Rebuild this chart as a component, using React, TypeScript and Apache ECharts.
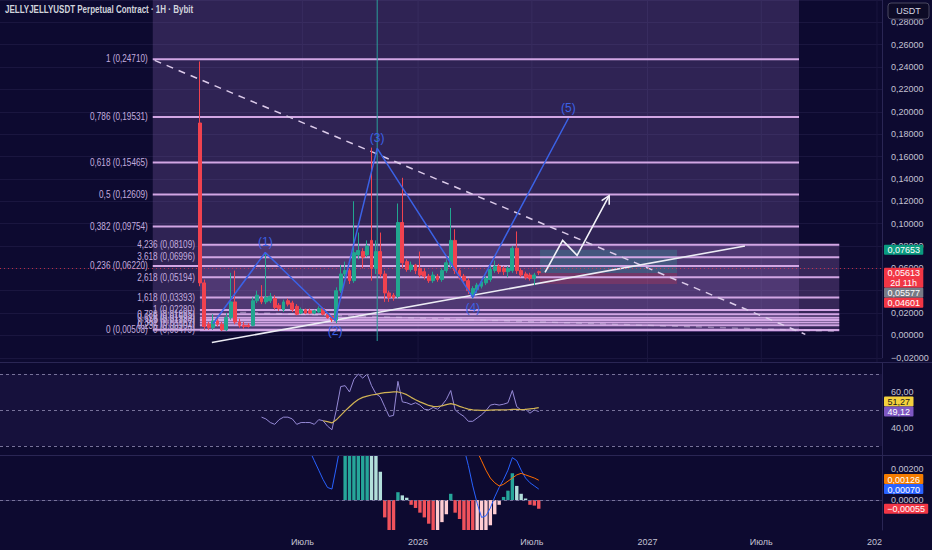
import React, { useEffect, useRef } from 'react';
import * as echarts from 'echarts';

// ---------- palette / fonts ----------
const BG = '#0d0a30';
const FONT = "'Liberation Sans', Arial, sans-serif";
const LABEL = '#c3c2d2';
const AXIS_LINE = '#2a2654';
const GRID_LINE = '#1a163f';
const FIB_LINE = '#d2a6e4';
const FIB_TEXT = '#c3acdf';
const FIB1_FILL = 'rgba(125,95,170,0.30)';
const FIB2_FILL = 'rgba(175,120,205,0.26)';
const UP = '#22a68f';
const DOWN = '#f0424f';
const WAVE = '#3b62e6';
const AXIS_FONT = 9;

// ---------- data ----------
const chartTitle = 'JELLYJELLYUSDT Perpetual Contract · 1H · Bybit';
const currency = 'USDT';

const firstCandle = '2025-01-19';
const opens = [
  0.190, 0.047, 0.010, 0.007, 0.013, 0.010, 0.005, 0.016, 0.030, 0.012,
  0.009, 0.009, 0.009, 0.031, 0.034, 0.030, 0.031, 0.033, 0.027, 0.023,
  0.031, 0.029, 0.026, 0.020, 0.023, 0.022, 0.020, 0.021, 0.024, 0.019,
  0.017, 0.014, 0.040, 0.055, 0.058, 0.049, 0.072, 0.075, 0.072, 0.085,
  0.060, 0.075, 0.055, 0.038, 0.036, 0.035, 0.101, 0.066, 0.059, 0.063,
  0.060, 0.057, 0.053, 0.049, 0.053, 0.050, 0.058, 0.063, 0.085, 0.058,
  0.053, 0.049, 0.036, 0.041, 0.044, 0.047, 0.050, 0.058, 0.062, 0.060,
  0.057, 0.058, 0.078, 0.058, 0.055, 0.054, 0.051, 0.057,
];
const closes = [
  0.047, 0.008, 0.007, 0.013, 0.010, 0.005, 0.016, 0.030, 0.012, 0.009,
  0.008, 0.008, 0.031, 0.036, 0.030, 0.034, 0.035, 0.025, 0.024, 0.030,
  0.028, 0.023, 0.019, 0.023, 0.020, 0.020, 0.022, 0.024, 0.019, 0.016,
  0.014, 0.040, 0.055, 0.058, 0.049, 0.074, 0.076, 0.070, 0.080, 0.060,
  0.075, 0.055, 0.038, 0.034, 0.034, 0.101, 0.065, 0.059, 0.063, 0.058,
  0.054, 0.053, 0.049, 0.054, 0.050, 0.058, 0.065, 0.085, 0.058, 0.052,
  0.049, 0.040, 0.042, 0.045, 0.048, 0.051, 0.059, 0.062, 0.057, 0.057,
  0.060, 0.078, 0.058, 0.054, 0.052, 0.051, 0.054, 0.05613,
];
const highs = [
  0.245, 0.050, 0.012, 0.019, 0.016, 0.012, 0.020, 0.056, 0.058, 0.015,
  0.012, 0.011, 0.034, 0.040, 0.045, 0.073, 0.038, 0.036, 0.029, 0.032,
  0.033, 0.031, 0.028, 0.025, 0.024, 0.024, 0.023, 0.026, 0.025, 0.020,
  0.018, 0.043, 0.063, 0.066, 0.060, 0.120, 0.092, 0.078, 0.085, 0.168,
  0.085, 0.092, 0.058, 0.040, 0.038, 0.118, 0.141, 0.068, 0.066, 0.064,
  0.075, 0.060, 0.055, 0.057, 0.055, 0.060, 0.068, 0.114, 0.095, 0.060,
  0.055, 0.051, 0.044, 0.047, 0.050, 0.053, 0.062, 0.067, 0.064, 0.062,
  0.062, 0.080, 0.093, 0.060, 0.057, 0.056, 0.056, 0.058,
];
const lows = [
  0.044, 0.005, 0.005, 0.005, 0.008, 0.004, 0.004, 0.014, 0.010, 0.007,
  0.006, 0.007, 0.008, 0.029, 0.028, 0.028, 0.029, 0.023, 0.022, 0.021,
  0.026, 0.021, 0.018, 0.019, 0.019, 0.019, 0.019, 0.020, 0.018, 0.015,
  0.012, 0.011, 0.038, 0.052, 0.046, 0.047, 0.068, 0.060, 0.070, 0.049,
  0.055, 0.052, 0.030, 0.030, 0.031, 0.033, 0.060, 0.057, 0.057, 0.055,
  0.052, 0.050, 0.047, 0.047, 0.048, 0.048, 0.056, 0.060, 0.055, 0.050,
  0.046, 0.037, 0.033, 0.038, 0.042, 0.045, 0.048, 0.056, 0.055, 0.054,
  0.052, 0.056, 0.055, 0.052, 0.050, 0.049, 0.045, 0.054,
];

const rsi = [
  ...Array(14).fill(null),
  46, 45, 43, 42, 44.6, 46, 46, 45, 42, 43,
  43, 43, 42, 44.6, 44, 41, 39, 50, 63, 63.5,
  60, 67, 70, 67.7, 70, 63.5, 59, 57.2, 51.8, 46.4,
  47, 65.9, 54.5, 54, 53, 54, 52.7, 50.4, 50, 51.4,
  50.4, 52.7, 55.8, 60.8, 50, 48, 46.4, 43.7, 43.7, 45.5,
  47.3, 49.6, 52.7, 53.2, 52.7, 53.2, 54, 60.8, 51.8, 50,
  50.4, 48.2, 50, 49.12,
];
const rsiMa = [
  ...Array(28).fill(null),
  44, 43.5, 42.8, 44.5, 47, 49.5, 51.8, 54, 55.8, 57,
  57.7, 58.3, 58.7, 59.2, 59.6, 59.8, 60, 60, 59.4, 58.5,
  57, 55.7, 54.5, 53.5, 52.5, 52, 51.9, 52.3, 53, 53.5,
  53, 52, 51.2, 50.5, 50, 49.9, 49.8, 49.8, 49.9, 50,
  50, 50, 50.1, 50.3, 50.3, 50.2, 50.3, 50.6, 50.9, 51.27,
];
const macdLine = [
  ...Array(25).fill(null),
  0.0031, 0.0025, 0.0019, 0.0013, 0.0008, 0.0007, 0.0021, 0.0036, 0.0060, 0.0080,
  0.0105, 0.0125, 0.0135, 0.0145, 0.0140, 0.0135, 0.0125, 0.0105, 0.0090, 0.0080,
  0.0090, 0.0088, 0.0085, 0.0080, 0.0075, 0.0070, 0.0065, 0.0058, 0.0052, 0.0050,
  0.0050, 0.0052, 0.0060, 0.0055, 0.0045, 0.0033, 0.0022, 0.0009, -0.0002, -0.0011,
  -0.0010, -0.0005, 0.0002, 0.0008, 0.0013, 0.0019, 0.0027, 0.0025, 0.0019, 0.0014,
  0.0011, 0.0009, 0.0007,
];
const macdSignal = [
  ...Array(32).fill(null),
  0.0030, 0.0035, 0.0045, 0.0055, 0.0065, 0.0075, 0.0085, 0.0092,
  0.0098, 0.0102, 0.0103, 0.0101, 0.0097, 0.0095, 0.0093, 0.0091, 0.0089, 0.0086,
  0.0083, 0.0079, 0.0075, 0.0071, 0.0067, 0.0064, 0.0062, 0.0061, 0.0060, 0.0057,
  0.0052, 0.0046, 0.0039, 0.0031, 0.0025, 0.0019, 0.0014, 0.0011, 0.0009, 0.0010,
  0.0012, 0.0014, 0.0016, 0.0017, 0.0016, 0.0015, 0.0014, 0.00126,
];
const macdHist = [
  ...Array(33).fill(null),
  0.0032, 0.0042, 0.0050, 0.0056, 0.0060, 0.0062, 0.0042,
  0.0030, 0.0018, -0.0011, -0.0020, -0.0024, 0.0005, 0.0003, 0.00015, -0.0003, -0.0005,
  -0.0008, -0.0011, -0.0015, -0.0020, -0.0019, -0.0014, -0.0009, 0.0004, -0.0008, -0.0012,
  -0.0019, -0.0024, -0.0030, -0.0029, -0.0027, -0.0022, -0.0016, -0.0009, -0.0003, 0.0002,
  0.0006, 0.0017, 0.0009, 0.0004, 0.0001, -0.0003, -0.00035, -0.00055,
];

const timeTickDates = ['2025-07-01', '2026-01-01', '2026-07-01', '2027-01-01', '2027-07-01', '2028-01-01'];
const timeTickLabels = ['Июль', '2026', 'Июль', '2027', 'Июль', '2028'];
const timeRange = ['2024-03-07', '2028-01-09'];

const priceRange = [-0.02, 0.30];
const priceStep = 0.02;
const rsiRange = [24.4, 76.1];
const rsiTicks = [40, 60];
const rsiBands = [70, 50, 30];
const macdRange = [-0.0019, 0.0028];
const macdTicks = [0, 0.002];

const fib1Ratios = ['0', '0,236', '0,382', '0,5', '0,618', '0,786', '1'];
const fib1Prices = [0.00508, 0.0622, 0.09754, 0.12609, 0.15465, 0.19531, 0.2471];
const fib1Span = ['2024-11-05', '2027-08-30'];
const fib1FillTop = 0.30;

const fib2Ratios = ['0', '0,236', '0,382', '0,5', '0,618', '0,786', '1', '1,618', '2,618', '3,618', '4,236'];
const fib2Prices = [0.00479, 0.00904, 0.01167, 0.0138, 0.01592, 0.01895, 0.0228, 0.03393, 0.05194, 0.06996, 0.08109];
const fib2Span = ['2025-01-19', '2027-11-02'];
const fibFillBottom = 0.003;

const waveDates = ['2025-02-09', '2025-05-03', '2025-08-22', '2025-10-28', '2026-03-29', '2026-08-28'];
const wavePrices = [0.0107, 0.0742, 0.0134, 0.1673, 0.034, 0.194];
const waveLabels = ['', '(1)', '(2)', '(3)', '(4)', '(5)'];

const supportDates = ['2025-02-07', '2027-06-05'];
const supportPrices = [-0.0063, 0.080];

const resistDates = ['2024-11-08', '2027-09-09'];
const resistPrices = [0.246, 0.001];

const lowDashDates = ['2025-03-24', '2027-11-03'];
const lowDashPrices = [0.0206, 0.0036];

const projDates = ['2026-07-22', '2026-08-19', '2026-09-11', '2026-11-01'];
const projPrices = [0.0564, 0.085, 0.0716, 0.125];

const markerDate = '2025-10-28';
const markerPrices = [-0.005, 0.30];

const positionDates = ['2026-07-14', '2027-02-17'];
const targetPrice = 0.07653;
const entryPrice = 0.05577;
const stopPrice = 0.04601;
const lastPrice = 0.05613;
const countdown = '2d 11h';

// ---------- helpers ----------
const DAY = 86400000;
const ts = (s: string) => Date.parse(s + 'T00:00:00Z');
const fmtNum = (v: number, d: number) => (v < -1e-12 ? '−' : '') + Math.abs(v).toFixed(d).replace('.', ',');
const candleTs = opens.map((_, i) => ts(firstCandle) + i * 7 * DAY);
const tickTs = timeTickDates.map(ts);

function histColor(i: number) {
  const v = macdHist[i] as number;
  const p = macdHist[i - 1];
  const prev = p == null ? -Infinity : (p as number);
  if (v >= 0) return v >= prev ? '#26a69a' : '#b2dfdb';
  return v < prev ? '#f0525c' : '#ffcdd2';
}

function hLevels(name: string, span: string[], prices: number[], ratios: string[]) {
  return {
    type: 'custom', name, xAxisIndex: 0, yAxisIndex: 0, z: 3, silent: true,
    data: prices.map((p, i) => [ts(span[0]), ts(span[1]), p, i]),
    renderItem: (_p: any, api: any) => {
      const a = api.coord([api.value(0), api.value(2)]);
      const b = api.coord([api.value(1), api.value(2)]);
      const idx = api.value(3);
      return {
        type: 'group',
        children: [
          { type: 'line', shape: { x1: a[0], y1: a[1], x2: b[0], y2: a[1] }, style: { stroke: FIB_LINE, lineWidth: 2 } },
          {
            type: 'text', x: a[0] - 5, y: a[1], scaleX: 0.82,
            style: {
              text: `${ratios[idx]} (${fmtNum(prices[idx], 5)})`,
              fill: FIB_TEXT, fontSize: 10, fontFamily: FONT, align: 'right', verticalAlign: 'middle',
            },
          },
        ],
      };
    },
  };
}

function fillRect(name: string, span: string[], top: number, bottom: number, color: string, z: number) {
  return {
    type: 'custom', name, xAxisIndex: 0, yAxisIndex: 0, z, silent: true,
    data: [[ts(span[0]), ts(span[1]), top, bottom]],
    renderItem: (_p: any, api: any) => {
      const a = api.coord([api.value(0), api.value(2)]);
      const b = api.coord([api.value(1), api.value(3)]);
      return { type: 'rect', shape: { x: a[0], y: a[1], width: b[0] - a[0], height: b[1] - a[1] }, style: { fill: color } };
    },
  };
}

function twoPointLine(name: string, dates: string[], prices: number[], lineStyle: any, z: number) {
  return {
    type: 'line', name, xAxisIndex: 0, yAxisIndex: 0, z, silent: true, symbol: 'none',
    data: dates.map((d, i) => [ts(d), prices[i]]), lineStyle,
  };
}

const priceLabel = (v: number) => (v > priceRange[1] - priceStep / 2 ? '' : fmtNum(v, 5));
const rsiLabel = (v: number) => fmtNum(v, 2);
const macdLabel = (v: number) => fmtNum(v, 5);

function buildOption() {
  const xAxes = [0, 1, 2].map((g) => ({
    type: 'value', gridIndex: g, min: ts(timeRange[0]), max: ts(timeRange[1]),
    axisLine: { show: g === 2, lineStyle: { color: AXIS_LINE } },
    axisTick: { show: false },
    splitLine: { show: false },
    axisPointer: { show: false },
    axisLabel: g === 2
      ? {
          show: true, customValues: tickTs, color: LABEL, fontSize: AXIS_FONT, fontFamily: FONT, margin: 7,
          formatter: (v: number) => {
            let best = 0;
            tickTs.forEach((t, i) => { if (Math.abs(t - v) < Math.abs(tickTs[best] - v)) best = i; });
            return timeTickLabels[best];
          },
        }
      : { show: false },
  }));

  const yAxes = [
    {
      type: 'value', gridIndex: 0, position: 'right', min: priceRange[0], max: priceRange[1], interval: priceStep,
      axisLine: { show: true, lineStyle: { color: AXIS_LINE } }, axisTick: { show: false },
      splitLine: { show: true, lineStyle: { color: GRID_LINE, width: 1 } },
      axisLabel: { color: LABEL, fontSize: AXIS_FONT, fontFamily: FONT, margin: 9, formatter: priceLabel },
    },
    {
      type: 'value', gridIndex: 1, position: 'right', min: rsiRange[0], max: rsiRange[1],
      axisLine: { show: true, lineStyle: { color: AXIS_LINE } }, axisTick: { show: false }, splitLine: { show: false },
      axisLabel: { customValues: rsiTicks, color: LABEL, fontSize: AXIS_FONT, fontFamily: FONT, margin: 9, formatter: rsiLabel },
    },
    {
      type: 'value', gridIndex: 2, position: 'right', min: macdRange[0], max: macdRange[1],
      axisLine: { show: true, lineStyle: { color: AXIS_LINE } }, axisTick: { show: false }, splitLine: { show: false },
      axisLabel: { customValues: macdTicks, color: LABEL, fontSize: AXIS_FONT, fontFamily: FONT, margin: 9, formatter: macdLabel },
    },
  ];

  const series: any[] = [
    {
      type: 'custom', name: 'timeGrid', xAxisIndex: 0, yAxisIndex: 0, z: 1, silent: true,
      data: tickTs.map((t) => [t]),
      renderItem: (params: any, api: any) => {
        const x = api.coord([api.value(0), 0])[0];
        const cs = params.coordSys;
        return { type: 'line', shape: { x1: x, y1: cs.y, x2: x, y2: cs.y + cs.height + 5 }, style: { stroke: GRID_LINE, lineWidth: 1 } };
      },
    },
    fillRect('fib1Fill', fib1Span, fib1FillTop, fibFillBottom, FIB1_FILL, 1),
    fillRect('fib2Fill', fib2Span, fib2Prices[fib2Prices.length - 1], fibFillBottom, FIB2_FILL, 1),
    fillRect('target', positionDates, targetPrice, entryPrice, 'rgba(38,166,154,0.28)', 2),
    fillRect('stop', positionDates, entryPrice, stopPrice, 'rgba(242,54,69,0.22)', 2),
    hLevels('fib1', fib1Span, fib1Prices, fib1Ratios),
    hLevels('fib2', fib2Span, fib2Prices, fib2Ratios),
    twoPointLine('lowDash', lowDashDates, lowDashPrices, { color: 'rgba(225,205,240,0.45)', width: 1.5, type: [6, 6] }, 4),
    twoPointLine('resistance', resistDates, resistPrices, { color: '#dccbea', width: 1.5, type: [7, 6] }, 4),
    twoPointLine('support', supportDates, supportPrices, { color: '#ececf4', width: 1.6 }, 4),
    twoPointLine('marker', [markerDate, markerDate], markerPrices, { color: '#2a9e98', width: 1 }, 4),
    {
      type: 'candlestick', name: 'JELLYJELLYUSDT', xAxisIndex: 0, yAxisIndex: 0, z: 5, barWidth: 3.4,
      data: candleTs.map((t, i) => [t, opens[i], closes[i], lows[i], highs[i]]),
      itemStyle: { color: UP, color0: DOWN, borderColor: UP, borderColor0: DOWN, borderWidth: 1 },
      markLine: {
        silent: true, symbol: 'none', label: { show: false },
        lineStyle: { color: 'rgba(242,54,69,0.75)', type: [1, 3], width: 1 },
        data: [{ yAxis: lastPrice }],
      },
    },
    {
      type: 'line', name: 'wave', xAxisIndex: 0, yAxisIndex: 0, z: 6, silent: true,
      symbol: 'circle', symbolSize: 1, itemStyle: { color: WAVE },
      lineStyle: { color: WAVE, width: 1.5 },
      data: waveDates.map((d, i) => ({
        value: [ts(d), wavePrices[i]],
        label: {
          show: i > 0, formatter: waveLabels[i], position: i % 2 ? 'top' : 'bottom', distance: 4,
          color: WAVE, fontSize: 12, fontFamily: FONT,
        },
      })),
    },
    {
      type: 'custom', name: 'projection', xAxisIndex: 0, yAxisIndex: 0, z: 6, silent: true,
      data: [[ts(projDates[0]), projPrices[0]]],
      renderItem: (_p: any, api: any) => {
        const pts = projDates.map((d, i) => api.coord([ts(d), projPrices[i]]));
        const n = pts.length;
        const [x2, y2] = pts[n - 2];
        const [x3, y3] = pts[n - 1];
        const ang = Math.atan2(y3 - y2, x3 - x2);
        const L = 9;
        const w1 = [x3 - L * Math.cos(ang - 0.5), y3 - L * Math.sin(ang - 0.5)];
        const w2 = [x3 - L * Math.cos(ang + 0.5), y3 - L * Math.sin(ang + 0.5)];
        const st = { stroke: '#f2f2f8', lineWidth: 1.6, fill: 'none' };
        return {
          type: 'group',
          children: [
            { type: 'polyline', shape: { points: pts }, style: st },
            { type: 'polyline', shape: { points: [w1, [x3, y3], w2] }, style: st },
          ],
        };
      },
    },
    {
      type: 'line', name: 'RSI', xAxisIndex: 1, yAxisIndex: 1, z: 4, silent: true, symbol: 'none',
      data: candleTs.map((t, i) => [t, rsi[i]]),
      lineStyle: { color: '#968ad6', width: 1 },
      markArea: { silent: true, itemStyle: { color: 'rgba(126,87,194,0.09)' }, data: [[{ yAxis: rsiBands[0] }, { yAxis: rsiBands[2] }]] },
      markLine: {
        silent: true, symbol: 'none', label: { show: false },
        lineStyle: { color: '#77729a', type: [3, 3], width: 1 },
        data: rsiBands.map((b) => ({ yAxis: b })),
      },
    },
    {
      type: 'line', name: 'RSI MA', xAxisIndex: 1, yAxisIndex: 1, z: 5, silent: true, symbol: 'none',
      data: candleTs.map((t, i) => [t, rsiMa[i]]),
      lineStyle: { color: '#d2b455', width: 1.2 },
    },
    {
      type: 'bar', name: 'Histogram', xAxisIndex: 2, yAxisIndex: 2, z: 3, silent: true, barWidth: 3.4,
      data: candleTs.map((t, i) => ({
        value: [t, macdHist[i]],
        itemStyle: { color: macdHist[i] == null ? 'transparent' : histColor(i) },
      })),
      markLine: {
        silent: true, symbol: 'none', label: { show: false },
        lineStyle: { color: '#77729a', type: [3, 3], width: 1 },
        data: [{ yAxis: 0 }],
      },
    },
    {
      type: 'line', name: 'MACD', xAxisIndex: 2, yAxisIndex: 2, z: 4, silent: true, symbol: 'none',
      data: candleTs.map((t, i) => [t, macdLine[i]]),
      lineStyle: { color: '#2962ff', width: 1 },
    },
    {
      type: 'line', name: 'Signal', xAxisIndex: 2, yAxisIndex: 2, z: 4, silent: true, symbol: 'none',
      data: candleTs.map((t, i) => [t, macdSignal[i]]),
      lineStyle: { color: '#ff6d00', width: 1 },
    },
  ];

  return {
    animation: false,
    backgroundColor: BG,
    textStyle: { fontFamily: FONT },
    grid: [
      { left: 0, right: 50, top: 0, height: 357.8 },
      { left: 0, right: 50, top: 363, height: 93 },
      { left: 0, right: 50, top: 456, height: 74 },
    ],
    xAxis: xAxes,
    yAxis: yAxes,
    series,
  };
}

type Box = { lines: string[]; bg: string; fg: string; v: number; axis: number; anchor?: boolean };

function buildOverlay(chart: any) {
  const groups: Box[][] = [
    [
      { lines: [fmtNum(targetPrice, 5)], bg: '#0a9a7f', fg: '#ffffff', v: targetPrice, axis: 0 },
      { lines: [fmtNum(lastPrice, 5), countdown], bg: '#f23645', fg: '#ffffff', v: lastPrice, axis: 0, anchor: true },
      { lines: [fmtNum(entryPrice, 5)], bg: '#787b86', fg: '#ffffff', v: entryPrice, axis: 0 },
      { lines: [fmtNum(stopPrice, 5)], bg: '#f23645', fg: '#ffffff', v: stopPrice, axis: 0 },
    ],
    [
      { lines: [fmtNum(rsiMa[rsiMa.length - 1] as number, 2)], bg: '#f4d13d', fg: '#1b1b1b', v: rsiMa[rsiMa.length - 1] as number, axis: 1 },
      { lines: [fmtNum(rsi[rsi.length - 1] as number, 2)], bg: '#7e57c2', fg: '#ffffff', v: rsi[rsi.length - 1] as number, axis: 1, anchor: true },
    ],
    [
      { lines: [fmtNum(macdSignal[macdSignal.length - 1] as number, 5)], bg: '#f57c00', fg: '#ffffff', v: macdSignal[macdSignal.length - 1] as number, axis: 2 },
      { lines: [fmtNum(macdLine[macdLine.length - 1] as number, 5)], bg: '#2962ff', fg: '#ffffff', v: macdLine[macdLine.length - 1] as number, axis: 2, anchor: true },
      { lines: [fmtNum(macdHist[macdHist.length - 1] as number, 5)], bg: '#f23645', fg: '#ffffff', v: macdHist[macdHist.length - 1] as number, axis: 2 },
    ],
  ];
  const LH = 10;
  const els: any[] = [];
  const spans: { axis: number; top: number; bottom: number }[] = [];
  groups.forEach((g) => {
    // the first text line of every box is centred on its value
    const items = g.map((b) => {
      const c = chart.convertToPixel({ yAxisIndex: b.axis }, b.v) as number;
      const h = b.lines.length * LH;
      return { b, h, top: c - LH / 2 };
    }).sort((p, q) => p.top - q.top);
    const a = Math.max(0, items.findIndex((it) => it.b.anchor));
    for (let i = a + 1; i < items.length; i++) items[i].top = Math.max(items[i].top, items[i - 1].top + items[i - 1].h);
    for (let i = a - 1; i >= 0; i--) items[i].top = Math.min(items[i].top, items[i + 1].top - items[i].h);
    items.forEach(({ b, h, top }) => {
      spans.push({ axis: b.axis, top, bottom: top + h });
      const len = Math.max(...b.lines.map((l) => l.length));
      const w = 5 + len * 4.9;
      els.push({ type: 'rect', z: 200, shape: { x: 884, y: top, width: w, height: h, r: 1 }, style: { fill: b.bg } });
      els.push({
        type: 'text', z: 201, x: 884 + w / 2, y: top + h / 2 + 0.5,
        style: { text: b.lines.join('\n'), fill: b.fg, fontSize: AXIS_FONT, lineHeight: LH, fontFamily: FONT, align: 'center', verticalAlign: 'middle' },
      });
    });
  });
  // axis labels that sit well under a value box are covered, as on the source chart
  const covered = (axis: number, v: number) => {
    const y = chart.convertToPixel({ yAxisIndex: axis }, v) as number;
    return spans.some((s) => s.axis === axis && y > s.top + 2.5 && y < s.bottom - 1);
  };
  const wrap = (axis: number, f: (v: number) => string) => (v: number) => (covered(axis, v) ? '' : f(v));
  const graphic = [
    { type: 'rect', z: 150, shape: { x: 882, y: 533, width: 50, height: 17 }, style: { fill: BG } },
    { type: 'line', z: 150, shape: { x1: 0, y1: 362.5, x2: 932, y2: 362.5 }, style: { stroke: AXIS_LINE, lineWidth: 1 } },
    { type: 'line', z: 150, shape: { x1: 0, y1: 455.5, x2: 932, y2: 455.5 }, style: { stroke: AXIS_LINE, lineWidth: 1 } },
    {
      type: 'text', z: 150, x: 5, y: 10, scaleX: 0.8,
      style: { text: chartTitle, fill: '#d1d4dc', fontSize: 10, fontWeight: 'bold', fontFamily: FONT, align: 'left', verticalAlign: 'middle' },
    },
    { type: 'rect', z: 150, shape: { x: 888, y: 3, width: 41, height: 16, r: 3 }, style: { fill: '#0d0b26', stroke: '#4a4860', lineWidth: 1 } },
    {
      type: 'text', z: 151, x: 908.5, y: 11,
      style: { text: currency, fill: '#d8d8e4', fontSize: AXIS_FONT, fontFamily: FONT, align: 'center', verticalAlign: 'middle' },
    },
    ...els,
  ];
  return {
    graphic,
    yAxis: [
      { axisLabel: { formatter: wrap(0, priceLabel) } },
      { axisLabel: { formatter: wrap(1, rsiLabel) } },
      { axisLabel: { formatter: wrap(2, macdLabel) } },
    ],
  };
}

export default function App() {
  const ref = useRef<HTMLDivElement>(null);
  useEffect(() => {
    document.body.style.margin = '0';
    const chart = echarts.init(ref.current as HTMLDivElement, null, { renderer: 'svg' });
    chart.setOption(buildOption() as any);
    chart.setOption(buildOverlay(chart) as any);
    return () => chart.dispose();
  }, []);
  return <div ref={ref} style={{ width: 932, height: 550, background: BG, overflow: 'hidden' }} />;
}
